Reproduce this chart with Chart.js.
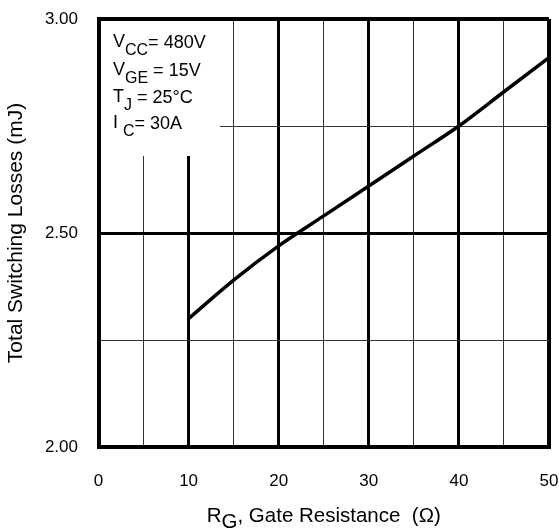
<!DOCTYPE html>
<html><head><meta charset="utf-8">
<script src="https://cdn.jsdelivr.net/npm/chart.js@4.4.1/dist/chart.umd.min.js"></script>
<style>html,body{margin:0;padding:0;background:#fff;} #wrap{position:relative;width:559px;height:529px;}</style>
</head><body><div id="wrap"><canvas id="c"></canvas></div>
<script>
// ---- data ----
const gateResistance = [10, 15, 20, 25, 30, 35, 40, 45, 50];
const totalLosses    = [2.30, 2.39, 2.47, 2.54, 2.61, 2.68, 2.75, 2.83, 2.91];
const xTickValues = [0, 10, 20, 30, 40, 50];
const xTickLabels = ['0', '10', '20', '30', '40', '50'];
const yTickValues = [2.0, 2.5, 3.0];
const yTickLabels = ['2.00', '2.50', '3.00'];
const conditionMain = ['V', 'V', 'T', 'I '];
const conditionSub  = ['CC', 'GE', 'J', 'C'];
const conditionRest = ['= 480V', ' = 15V', ' = 25\u00B0C', '= 30A'];
const yTitle = 'Total Switching Losses (mJ)';
const xTitleMain = 'R', xTitleSub = 'G', xTitleRest = ', Gate Resistance  (\u03A9)';

const FONT = '"Liberation Sans", Arial, Helvetica, sans-serif';

function near(arr, v){ return arr.findIndex(t => Math.abs(t - v) < 1e-9); }

const overlay = {
  id: 'overlay',
  beforeDatasetsDraw(chart){
    const {ctx, chartArea: a} = chart;
    ctx.save();
    ctx.fillStyle = '#fff';
    const l = Math.ceil(a.left + 2.5), t = Math.ceil(a.top + 2);
    ctx.fillRect(l, t, 220 - l, 156 - t);
    ctx.restore();
  },
  afterDraw(chart){
    const {ctx, chartArea: a} = chart;
    ctx.save();
    ctx.fillStyle = '#000';
    ctx.textBaseline = 'alphabetic';
    ctx.textAlign = 'left';
    const mainF = '18px ' + FONT, subF = '16px ' + FONT;
    const baselines = [47, 75, 102, 128];
    for (let i = 0; i < conditionMain.length; i++) {
      let x = 113;
      const b = baselines[i];
      ctx.font = mainF; ctx.fillText(conditionMain[i], x, b); x += ctx.measureText(conditionMain[i]).width;
      ctx.font = subF; ctx.fillText(conditionSub[i], x, b + 8); x += ctx.measureText(conditionSub[i]).width;
      ctx.font = mainF; ctx.fillText(conditionRest[i], x, b + 1);
    }
    // x title with subscript
    const tf = '20.5px ' + FONT;
    ctx.font = tf;
    const w1 = ctx.measureText(xTitleMain).width, w2 = ctx.measureText(xTitleSub).width, w3 = ctx.measureText(xTitleRest).width;
    let x = (a.left + a.right) / 2 - (w1 + w2 + w3) / 2;
    ctx.fillText(xTitleMain, x, 522); x += w1;
    ctx.fillText(xTitleSub, x, 528); x += w2;
    ctx.fillText(xTitleRest, x, 522);
    ctx.restore();
  }
};

new Chart(document.getElementById('c'), {
  type: 'line',
  data: {
    datasets: [{
      data: gateResistance.map((g, i) => ({x: g, y: totalLosses[i]})),
      borderColor: '#000',
      borderWidth: 3.5,
      pointRadius: 0,
      cubicInterpolationMode: 'monotone',
      fill: false
    }]
  },
  options: {
    responsive: true,
    maintainAspectRatio: false,
    animation: false,
    layout: { padding: { left: 0, right: 10, top: 19, bottom: 0 } },
    plugins: { legend: { display: false }, tooltip: { enabled: false } },
    scales: {
      x: {
        type: 'linear', min: 0, max: 50,
        afterFit(s){ s.height = 82; },
        ticks: {
          stepSize: 5, autoSkip: false, maxRotation: 0, padding: 0, color: '#000',
          font: { family: FONT, size: 17 },
          callback: v => { const i = near(xTickValues, v); return i >= 0 ? xTickLabels[i] : ''; }
        },
        grid: {
          drawTicks: true, tickLength: 24, tickColor: 'rgba(0,0,0,0)',
          color: c => (c.tick && near(xTickValues, c.tick.value) >= 0) ? '#000' : '#333',
          lineWidth: c => {
            const v = c.tick ? c.tick.value : 0;
            if (v === 0 || v === 50) return 4;
            return near(xTickValues, v) >= 0 ? 3 : 1;
          }
        },
        border: { display: true, width: 4, color: '#000' }
      },
      y: {
        type: 'linear', min: 2, max: 3,
        afterFit(s){ s.width = 98.5; },
        ticks: {
          stepSize: 0.25, autoSkip: false, padding: 2, color: '#000',
          font: { family: FONT, size: 17 },
          callback: v => { const i = near(yTickValues, v); return i >= 0 ? yTickLabels[i] : ''; }
        },
        grid: {
          drawTicks: true, tickLength: 18.5, tickColor: 'rgba(0,0,0,0)',
          color: c => (c.tick && near(yTickValues, c.tick.value) >= 0) ? '#000' : '#333',
          lineWidth: c => {
            const v = c.tick ? c.tick.value : 0;
            if (Math.abs(v - 2) < 1e-9 || Math.abs(v - 3) < 1e-9) return 4;
            return near(yTickValues, v) >= 0 ? 3 : 1;
          }
        },
        border: { display: true, width: 4, color: '#000' },
        title: { display: true, text: yTitle, color: '#000', font: { family: FONT, size: 21 }, padding: { top: 4, bottom: 0 } }
      }
    }
  },
  plugins: [overlay]
});
</script>
</body></html>
